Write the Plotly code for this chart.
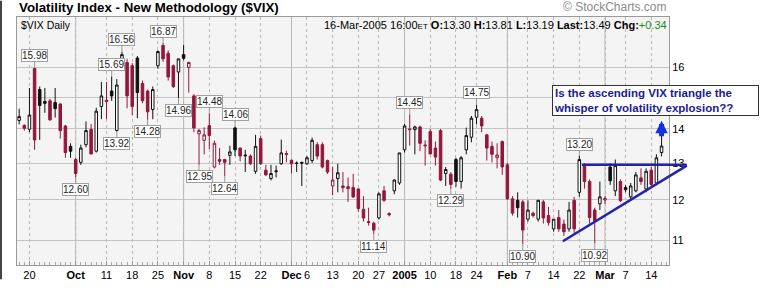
import math
import pandas as pd
import plotly.graph_objects as go

# ---------------- data ----------------
holidays = ["2004-11-25", "2004-12-24", "2005-01-17", "2005-02-21"]
dates = [d.strftime("%Y-%m-%d") for d in pd.bdate_range("2004-09-16", "2005-03-16")
         if d.strftime("%Y-%m-%d") not in holidays]

opens = [14.26, 14.11, 13.99, 15.96, 15.25, 14.86, 14.88, 14.83, 14.78, 14.09,
         13.48, 13.10, 13.02, 13.53, 13.99, 13.34, 14.70, 14.90, 15.20, 13.95,
         16.17, 16.17, 16.06, 16.33, 15.45, 15.20, 14.60, 16.06, 16.78, 16.50,
         16.06, 15.84, 16.45, 16.00, 15.04, 13.85, 13.66, 14.10, 12.89, 13.10,
         13.10, 13.22, 14.03, 13.43, 13.23, 13.20, 12.77, 13.71, 12.80, 12.57,
         12.76, 12.98, 13.27, 13.08, 13.00, 13.02, 12.98, 13.07, 13.53, 13.53,
         13.07, 12.37, 12.57, 12.37, 12.35, 12.33, 12.29, 11.76, 11.45, 11.41,
         11.54, 12.24, 11.65, 12.24, 12.45, 13.38, 14.00, 13.98, 14.06, 13.52,
         13.92, 13.43, 13.95, 12.71, 12.69, 13.10, 12.49, 13.38, 13.75, 14.36,
         14.33, 13.82, 13.48, 13.15, 13.62, 12.95, 12.03, 11.99, 11.95, 11.51,
         11.66, 11.51, 11.95, 11.60, 11.27, 11.55, 11.39, 11.27, 11.99, 12.20,
         12.93, 12.49, 11.74, 11.90, 12.00, 12.89, 12.24, 12.49, 12.33, 12.08,
         12.24, 12.59, 12.29, 12.80, 12.45, 13.30]
highs = [14.63, 14.14, 15.30, 15.98, 15.35, 15.30, 14.95, 15.30, 14.80, 14.12,
         13.57, 13.15, 13.53, 14.23, 14.15, 14.66, 15.50, 15.50, 15.69, 15.60,
         16.56, 16.30, 16.15, 16.40, 15.55, 15.25, 15.35, 16.60, 16.87, 16.60,
         16.10, 16.30, 16.80, 16.20, 15.10, 14.00, 14.05, 14.48, 13.65, 13.43,
         13.12, 13.50, 14.06, 13.45, 13.38, 13.25, 13.82, 13.80, 12.95, 12.95,
         12.93, 13.68, 13.35, 13.10, 13.05, 13.04, 13.20, 13.74, 13.60, 13.60,
         13.10, 12.90, 12.98, 12.75, 12.60, 12.70, 12.30, 12.10, 11.80, 11.45,
         12.20, 12.37, 11.68, 12.55, 13.29, 14.15, 14.45, 14.10, 14.10, 13.66,
         14.00, 13.62, 14.00, 12.89, 12.75, 13.15, 13.20, 14.04, 14.40, 14.75,
         14.40, 13.85, 13.62, 13.57, 13.65, 13.00, 12.10, 12.20, 12.00, 11.99,
         11.70, 12.00, 12.00, 11.82, 11.50, 11.74, 11.50, 11.95, 12.08, 13.20,
         13.00, 12.55, 11.80, 12.49, 12.10, 13.00, 13.10, 12.55, 12.40, 12.45,
         12.75, 12.85, 12.85, 12.90, 13.25, 13.81]
lows = [14.14, 13.95, 13.90, 13.38, 13.67, 14.50, 14.25, 14.35, 13.71, 13.15,
        13.15, 12.60, 12.95, 13.45, 13.25, 13.30, 14.30, 14.30, 14.88, 13.92,
        16.10, 14.64, 14.43, 14.33, 14.80, 14.28, 14.30, 15.95, 16.20, 15.55,
        15.30, 14.96, 16.25, 15.15, 13.90, 12.95, 13.25, 13.40, 12.85, 12.95,
        12.64, 12.95, 13.20, 13.05, 12.75, 12.95, 12.70, 12.95, 12.65, 12.52,
        12.60, 12.95, 13.02, 12.71, 12.75, 12.37, 12.95, 13.00, 13.10, 12.85,
        12.70, 12.12, 12.20, 12.20, 11.95, 12.05, 11.70, 11.45, 11.35, 11.14,
        11.50, 11.95, 11.58, 12.15, 12.40, 13.30, 13.50, 13.25, 13.34, 12.93,
        13.25, 12.93, 12.50, 12.37, 12.29, 12.35, 12.30, 13.25, 13.60, 14.14,
        13.90, 13.07, 13.02, 12.85, 12.67, 12.00, 11.60, 11.55, 10.90, 11.45,
        11.55, 11.45, 11.40, 11.35, 11.20, 11.20, 11.10, 11.20, 11.15, 12.08,
        12.30, 11.40, 10.92, 11.74, 11.90, 12.40, 12.10, 11.95, 12.20, 12.00,
        12.20, 12.40, 12.20, 12.35, 12.40, 13.19]
closes = [14.38, 14.02, 14.43, 13.67, 14.73, 14.80, 14.28, 14.63, 13.95, 13.30,
          13.34, 12.71, 13.43, 13.95, 13.26, 14.55, 15.04, 14.86, 15.04, 15.40,
          16.45, 15.04, 14.70, 15.15, 14.88, 14.53, 15.25, 16.56, 16.30, 15.67,
          15.35, 16.30, 16.32, 16.17, 14.03, 13.95, 13.82, 13.80, 13.57, 13.05,
          13.02, 13.32, 13.38, 13.20, 13.21, 12.98, 13.48, 12.98, 12.67, 12.71,
          12.78, 13.29, 13.25, 12.98, 12.99, 13.00, 13.15, 13.66, 13.20, 12.89,
          12.75, 12.53, 12.73, 12.33, 12.30, 12.08, 11.78, 11.54, 11.43, 11.24,
          12.16, 11.99, 11.62, 12.53, 13.29, 14.09, 13.98, 14.06, 13.57, 13.50,
          13.26, 13.17, 12.53, 12.82, 12.41, 12.49, 13.15, 13.80, 14.33, 14.60,
          14.09, 13.43, 13.25, 13.23, 12.89, 12.03, 11.66, 11.80, 11.24, 11.74,
          11.60, 11.99, 11.54, 11.43, 11.51, 11.27, 11.20, 11.74, 11.27, 13.10,
          12.49, 11.55, 11.47, 12.08, 12.04, 12.51, 12.93, 11.98, 12.27, 12.37,
          12.67, 12.49, 12.77, 12.41, 13.15, 13.49]

tick_dates = ["2004-09-20", "2004-10-01", "2004-10-11", "2004-10-18", "2004-10-25",
              "2004-11-01", "2004-11-08", "2004-11-15", "2004-11-22", "2004-12-01",
              "2004-12-06", "2004-12-13", "2004-12-20", "2004-12-27", "2005-01-03",
              "2005-01-10", "2005-01-18", "2005-01-24", "2005-02-01", "2005-02-07",
              "2005-02-14", "2005-02-22", "2005-03-01", "2005-03-07", "2005-03-14"]
tick_labels = ["20", "<b>Oct</b>", "11", "18", "25", "<b>Nov</b>", "8", "15", "22",
               "<b>Dec</b>", "6", "13", "20", "27", "<b>2005</b>", "10", "18", "24",
               "<b>Feb</b>", "7", "14", "22", "<b>Mar</b>", "7", "14"]
month_starts = ["2004-10-01", "2004-11-01", "2004-12-01", "2005-01-03", "2005-02-01", "2005-03-01"]

label_dates = ["2004-09-21", "2004-10-14", "2004-10-12", "2004-10-26", "2004-10-13",
               "2004-10-21", "2004-10-29", "2004-11-08", "2004-11-15", "2004-10-01",
               "2004-11-04", "2004-11-11", "2004-12-23", "2005-01-04", "2005-01-24",
               "2005-01-14", "2005-02-04", "2005-02-25", "2005-02-22"]
label_values = [15.98, 16.56, 15.69, 16.87, 13.92, 14.28, 14.96, 14.48, 14.06, 12.60,
                12.95, 12.64, 11.14, 14.45, 14.75, 12.29, 10.90, 10.92, 13.20]
label_sides = ["high", "high", "high", "high", "low", "low", "low", "high", "high", "low",
               "low", "low", "low", "high", "high", "low", "low", "low", "high"]

# grid levels; the 15 label is hidden behind the comment box in the original
y_ticks = [11, 12, 13, 14, 15, 16]
y_ticktext = ["11", "12", "13", "14", "", "16"]

# triangle drawn on the chart (position in trading-day units, value)
resistance_pts = [(109.5, 12.95), (129.9, 12.95)]
support_pts = [(105.8, 10.97), (129.9, 12.93)]
arrow_day, arrow_value = 125, 14.25

# ---------------- figure ----------------
RED = "#93173b"
BLACK = "#111111"
BLUE_LINE = "#2424a8"
FONT = "Liberation Sans, Arial, sans-serif"

xpos = list(range(len(dates)))
groups = {"hollow_black": [], "hollow_red": [], "filled_black": [], "filled_red": []}
for i in xpos:
    prev = closes[i - 1] if i > 0 else opens[i]
    hollow = closes[i] >= opens[i]
    red = closes[i] < prev
    key = ("hollow_" if hollow else "filled_") + ("red" if red else "black")
    groups[key].append(i)

styles = {
    "hollow_black": ("white", BLACK),
    "hollow_red": ("white", RED),
    "filled_black": (BLACK, BLACK),
    "filled_red": (RED, RED),
}

fig = go.Figure()
for key, idx in groups.items():
    if not idx:
        continue
    fill, line = styles[key]
    fig.add_trace(go.Candlestick(
        x=[xpos[i] for i in idx],
        open=[opens[i] for i in idx],
        high=[highs[i] for i in idx],
        low=[lows[i] for i in idx],
        close=[closes[i] for i in idx],
        increasing=dict(fillcolor=fill, line=dict(color=line, width=1)),
        decreasing=dict(fillcolor=fill, line=dict(color=line, width=1)),
        whiskerwidth=0,
        showlegend=False,
        hoverinfo="skip",
    ))

W, H = 762, 293
ML, MR, MT, MB = 17, 93, 17, 15
PW, PH = W - ML - MR, H - MT - MB
xr = [-0.42, 126.45]
yr = [math.log10(10.42), math.log10(17.85)]


def to_paper(day, value):
    px = (day - xr[0]) / (xr[1] - xr[0])
    py = (math.log10(value) - yr[0]) / (yr[1] - yr[0])
    return px, py


tickvals = [dates.index(d) for d in tick_dates]

fig.update_layout(
    width=W, height=H,
    margin=dict(l=ML, r=MR, t=MT, b=MB, pad=0),
    paper_bgcolor="white",
    plot_bgcolor="#f4f4f4",
    font=dict(family=FONT, size=11, color="black"),
    xaxis=dict(
        range=xr, tickvals=tickvals, ticktext=tick_labels,
        rangeslider=dict(visible=False),
        showgrid=True, gridcolor="#b8b8b8", griddash="dot", gridwidth=1,
        showline=True, linecolor="#9a9a9a", linewidth=1, mirror=True,
        ticks="inside", ticklen=4, tickcolor="#9a9a9a",
        minor=dict(dtick=1, tick0=0, ticks="inside", ticklen=3, tickcolor="#aaaaaa", showgrid=False),
        tickfont=dict(size=11, family=FONT, color="black"),
        zeroline=False, fixedrange=True,
    ),
    yaxis=dict(
        type="log", range=yr, side="right",
        tickvals=y_ticks, ticktext=y_ticktext,
        showgrid=True, gridcolor="#c4c4c4", gridwidth=1,
        showline=True, linecolor="#9a9a9a", linewidth=1, mirror=True,
        ticks="", tickfont=dict(size=11, family=FONT, color="black"),
        zeroline=False,
    ),
)

# solid month grid lines
for d in month_starts:
    fig.add_shape(type="line", xref="x", yref="paper", x0=dates.index(d), x1=dates.index(d),
                  y0=0, y1=1, line=dict(color="#b8b8b8", width=1), layer="below")

# price labels
for d, v, s in zip(label_dates, label_values, label_sides):
    fig.add_annotation(
        x=dates.index(d), y=math.log10(v), xref="x", yref="y",
        text=f"{v:.2f}", showarrow=True, arrowhead=0, arrowwidth=1, arrowcolor="#999999",
        ax=0, ay=-12 if s == "high" else 12, standoff=0,
        bgcolor="white", bordercolor="#a0a0a0", borderwidth=1, borderpad=0,
        font=dict(size=10, family=FONT, color="#222222"),
    )

# triangle lines (extend past the plot area like the original drawing)
for pts in (resistance_pts, support_pts):
    (xa, ya), (xb, yb) = [to_paper(*p) for p in pts]
    fig.add_shape(type="line", xref="paper", yref="paper", x0=xa, y0=ya, x1=xb, y1=yb,
                  line=dict(color=BLUE_LINE, width=2.5), layer="above")

# blue arrow above last candle
fig.add_annotation(x=arrow_day, y=math.log10(arrow_value), xref="x", yref="y",
                   text="", showarrow=True, arrowhead=2, arrowsize=0.5, arrowwidth=5,
                   arrowcolor="#1530e0", ax=0, ay=17, standoff=0)

# comment box
fig.add_annotation(
    xref="paper", yref="paper", x=(552 - ML) / PW, y=(H - MB - 89) / PH,
    xanchor="left", yanchor="top", align="left", width=203,
    text="Is the ascending VIX triangle the<br>whisper of volatility explosion??",
    showarrow=False, bgcolor="white", bordercolor="#333333", borderwidth=1, borderpad=1,
    font=dict(size=11.5, family=FONT, color="#1a1a96", weight="bold"),
)

# titles and header texts
fig.add_annotation(xref="paper", yref="paper", x=0, y=1, xanchor="left", yanchor="bottom", yshift=0,
                   text="<b>Volatility Index - New Methodology ($VIX)</b>", showarrow=False,
                   font=dict(size=13.3, family=FONT, color="black"))
fig.add_annotation(xref="paper", yref="paper", x=1, y=1, xanchor="right", yanchor="bottom", yshift=1,
                   text="© StockCharts.com", showarrow=False,
                   font=dict(size=12, family=FONT, color="#8c8c8c"))
fig.add_annotation(xref="paper", yref="paper", x=0.003, y=1, xanchor="left", yanchor="top",
                   text="$VIX Daily", showarrow=False,
                   font=dict(size=10.5, family=FONT, color="black"))
fig.add_annotation(xref="paper", yref="paper", x=1, y=1, xanchor="right", yanchor="top",
                   text=("16-Mar-2005 16:00<span style='font-size:8px'>ET</span> "
                         "<b>O:</b>13.30 <b>H:</b>13.81 <b>L:</b>13.19 <b>Last:</b>13.49 "
                         "<b>Chg:</b><span style='color:#1b8a1b'>+0.34</span>"),
                   showarrow=False, font=dict(size=11, family=FONT, color="black"))

# dark frame edge on the left of the picture
fig.add_shape(type="line", xref="paper", yref="paper", x0=-(ML - 1) / PW, x1=-(ML - 1) / PW,
              y0=-MB / PH, y1=(PH + MT) / PH, line=dict(color="#444444", width=2))

fig.write_html("out.html")
